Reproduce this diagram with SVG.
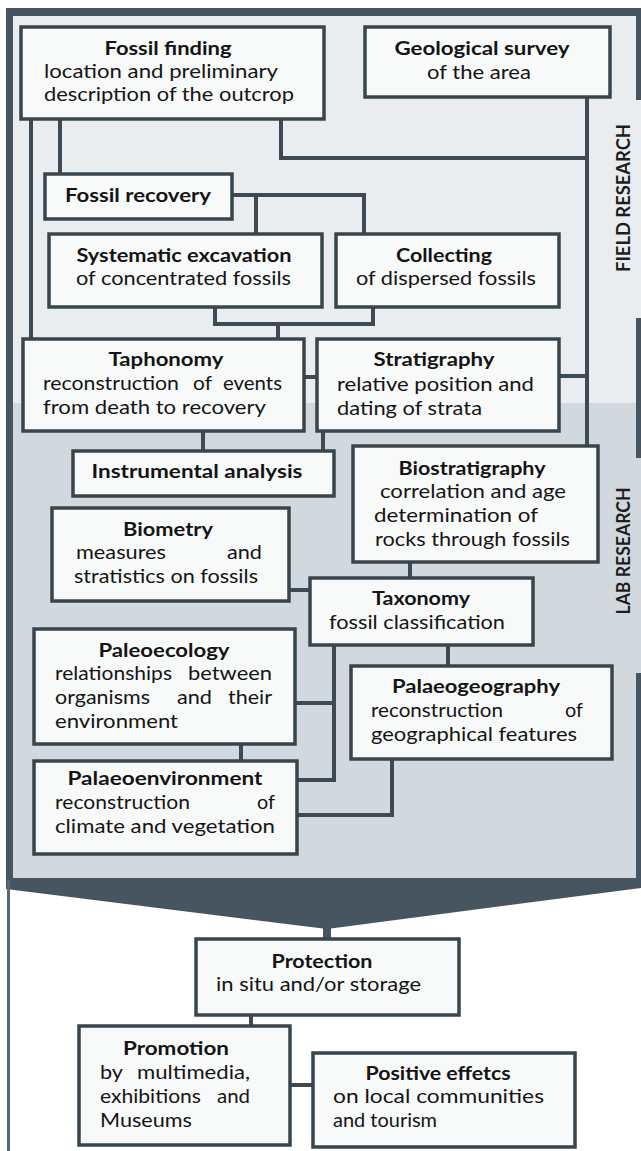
<svg xmlns="http://www.w3.org/2000/svg" width="641" height="1151" viewBox="0 0 641 1151">
<style>
.box{fill:#f8f9f9;stroke:#38454d;stroke-width:3.5}
.con{fill:none;stroke:#3d4a53;stroke-width:4}
text{font-family:Lato,"Open Sans","Liberation Sans",sans-serif;font-size:19px;fill:#141414}
.t{font-weight:700;text-anchor:middle}
.side{font-weight:700;font-size:18px;fill:#1e1e1e;text-anchor:middle}
</style>
<rect x="0" y="0" width="641" height="1151" fill="#ffffff"/>
<g id="frame">
<path d="M6,8 H641 V888 L327,929 L6,889 Z" fill="#46555f"/>
<rect x="7" y="880" width="3" height="271" fill="#5b6870"/>
<rect x="13" y="16" width="623" height="387" fill="#e9edf0"/>
<rect x="13" y="403" width="623" height="475" fill="#d1d9df"/>
<rect x="636" y="100" width="5" height="218" fill="#e9edf0"/>
<rect x="636" y="458" width="5" height="215" fill="#d1d9df"/>
<rect x="323" y="925" width="8" height="15" fill="#46555f"/>
<text class="side" transform="translate(630,198) rotate(-90)" textLength="148" lengthAdjust="spacingAndGlyphs">FIELD RESEARCH</text>
<text class="side" transform="translate(630,551) rotate(-90)" textLength="127" lengthAdjust="spacingAndGlyphs">LAB RESEARCH</text>
</g>
<g id="connectors">
<path class="con" d="M31,119 V339"/>
<path class="con" d="M60,119 V174"/>
<path class="con" d="M281,119 V158 H587"/>
<path class="con" d="M587,97 V446"/>
<path class="con" d="M232,195 H364 V234"/>
<path class="con" d="M256,195 V234"/>
<path class="con" d="M215,307 V324 H373 V307"/>
<path class="con" d="M278,324 V339"/>
<path class="con" d="M304,377 H317"/>
<path class="con" d="M559,376 H587"/>
<path class="con" d="M203,431 V451"/>
<path class="con" d="M323,431 V451"/>
<path class="con" d="M410,562 V578"/>
<path class="con" d="M289,590 H310"/>
<path class="con" d="M448,645 V666"/>
<path class="con" d="M334,645 V780 H297"/>
<path class="con" d="M295,703 H334"/>
<path class="con" d="M241,744 V761"/>
<path class="con" d="M297,815 H392 V759"/>
<path class="con" d="M251,1015 V1026"/>
<path class="con" d="M290,1085 H313"/>
</g>
<g id="fossil-finding">
<rect class="box" x="21" y="27" width="303" height="92"/>
<text class="t" x="168" y="55" textLength="127" lengthAdjust="spacingAndGlyphs">Fossil finding</text>
<text x="44" y="78" textLength="234" lengthAdjust="spacingAndGlyphs">location and preliminary</text>
<text x="44" y="101" textLength="250" lengthAdjust="spacingAndGlyphs">description of the outcrop</text>
</g>
<g id="geological-survey">
<rect class="box" x="365" y="27" width="245" height="70"/>
<text class="t" x="482" y="55" textLength="175" lengthAdjust="spacingAndGlyphs">Geological survey</text>
<text x="427" y="79" textLength="104" lengthAdjust="spacingAndGlyphs">of the area</text>
</g>
<g id="fossil-recovery">
<rect class="box" x="45" y="174" width="187" height="45"/>
<text class="t" x="138" y="202" textLength="146" lengthAdjust="spacingAndGlyphs">Fossil recovery</text>
</g>
<g id="systematic-excavation">
<rect class="box" x="49" y="234" width="273" height="73"/>
<text class="t" x="184" y="262" textLength="215" lengthAdjust="spacingAndGlyphs">Systematic excavation</text>
<text x="76" y="285" textLength="215" lengthAdjust="spacingAndGlyphs">of concentrated fossils</text>
</g>
<g id="collecting">
<rect class="box" x="336" y="234" width="223" height="73"/>
<text class="t" x="444" y="262" textLength="96" lengthAdjust="spacingAndGlyphs">Collecting</text>
<text x="356" y="285" textLength="180" lengthAdjust="spacingAndGlyphs">of dispersed fossils</text>
</g>
<g id="taphonomy">
<rect class="box" x="23" y="339" width="281" height="92"/>
<text class="t" x="166" y="366" textLength="115" lengthAdjust="spacingAndGlyphs">Taphonomy</text>
<text x="43" y="390" textLength="136" lengthAdjust="spacingAndGlyphs">reconstruction</text>
<text x="193" y="390" textLength="19" lengthAdjust="spacingAndGlyphs">of</text>
<text x="223" y="390" textLength="59" lengthAdjust="spacingAndGlyphs">events</text>
<text x="43" y="414" textLength="223" lengthAdjust="spacingAndGlyphs">from death to recovery</text>
</g>
<g id="stratigraphy">
<rect class="box" x="317" y="339" width="242" height="92"/>
<text class="t" x="434" y="366" textLength="121" lengthAdjust="spacingAndGlyphs">Stratigraphy</text>
<text x="337" y="391" textLength="197" lengthAdjust="spacingAndGlyphs">relative position and</text>
<text x="337" y="415" textLength="145" lengthAdjust="spacingAndGlyphs">dating of strata</text>
</g>
<g id="instrumental-analysis">
<rect class="box" x="73" y="451" width="261" height="45"/>
<text class="t" x="197" y="478" textLength="211" lengthAdjust="spacingAndGlyphs">Instrumental analysis</text>
</g>
<g id="biostratigraphy">
<rect class="box" x="353" y="446" width="245" height="116"/>
<text class="t" x="472" y="475" textLength="147" lengthAdjust="spacingAndGlyphs">Biostratigraphy</text>
<text x="380" y="498" textLength="186" lengthAdjust="spacingAndGlyphs">correlation and age</text>
<text x="374" y="522" textLength="164" lengthAdjust="spacingAndGlyphs">determination of</text>
<text x="375" y="546" textLength="195" lengthAdjust="spacingAndGlyphs">rocks through fossils</text>
</g>
<g id="biometry">
<rect class="box" x="52" y="508" width="237" height="93"/>
<text class="t" x="168" y="536" textLength="90" lengthAdjust="spacingAndGlyphs">Biometry</text>
<text x="76" y="559" textLength="90" lengthAdjust="spacingAndGlyphs">measures</text>
<text x="227" y="559" textLength="35" lengthAdjust="spacingAndGlyphs">and</text>
<text x="74" y="583" textLength="184" lengthAdjust="spacingAndGlyphs">stratistics on fossils</text>
</g>
<g id="taxonomy">
<rect class="box" x="310" y="578" width="223" height="67"/>
<text class="t" x="421" y="605" textLength="98" lengthAdjust="spacingAndGlyphs">Taxonomy</text>
<text x="329" y="629" textLength="176" lengthAdjust="spacingAndGlyphs">fossil classification</text>
</g>
<g id="paleoecology">
<rect class="box" x="34" y="629" width="261" height="115"/>
<text class="t" x="164" y="657" textLength="131" lengthAdjust="spacingAndGlyphs">Paleoecology</text>
<text x="55" y="680" textLength="117" lengthAdjust="spacingAndGlyphs">relationships</text>
<text x="188" y="680" textLength="84" lengthAdjust="spacingAndGlyphs">between</text>
<text x="55" y="704" textLength="95" lengthAdjust="spacingAndGlyphs">organisms</text>
<text x="177" y="704" textLength="35" lengthAdjust="spacingAndGlyphs">and</text>
<text x="228" y="704" textLength="44" lengthAdjust="spacingAndGlyphs">their</text>
<text x="55" y="728" textLength="123" lengthAdjust="spacingAndGlyphs">environment</text>
</g>
<g id="palaeogeography">
<rect class="box" x="351" y="666" width="261" height="93"/>
<text class="t" x="476" y="693" textLength="168" lengthAdjust="spacingAndGlyphs">Palaeogeography</text>
<text x="371" y="717" textLength="132" lengthAdjust="spacingAndGlyphs">reconstruction</text>
<text x="565" y="717" textLength="18" lengthAdjust="spacingAndGlyphs">of</text>
<text x="371" y="741" textLength="206" lengthAdjust="spacingAndGlyphs">geographical features</text>
</g>
<g id="palaeoenvironment">
<rect class="box" x="34" y="761" width="263" height="93"/>
<text class="t" x="165" y="785" textLength="195" lengthAdjust="spacingAndGlyphs">Palaeoenvironment</text>
<text x="55" y="809" textLength="135" lengthAdjust="spacingAndGlyphs">reconstruction</text>
<text x="257" y="809" textLength="18" lengthAdjust="spacingAndGlyphs">of</text>
<text x="55" y="833" textLength="220" lengthAdjust="spacingAndGlyphs">climate and vegetation</text>
</g>
<g id="protection">
<rect class="box" x="196" y="939" width="263" height="76"/>
<text class="t" x="322" y="968" textLength="101" lengthAdjust="spacingAndGlyphs">Protection</text>
<text x="216" y="991" textLength="205" lengthAdjust="spacingAndGlyphs">in situ and/or storage</text>
</g>
<g id="promotion">
<rect class="box" x="79" y="1026" width="211" height="119"/>
<text class="t" x="176" y="1055" textLength="106" lengthAdjust="spacingAndGlyphs">Promotion</text>
<text x="100" y="1079" textLength="23" lengthAdjust="spacingAndGlyphs">by</text>
<text x="137" y="1079" textLength="113" lengthAdjust="spacingAndGlyphs">multimedia,</text>
<text x="100" y="1103" textLength="101" lengthAdjust="spacingAndGlyphs">exhibitions</text>
<text x="217" y="1103" textLength="33" lengthAdjust="spacingAndGlyphs">and</text>
<text x="100" y="1127" textLength="92" lengthAdjust="spacingAndGlyphs">Museums</text>
</g>
<g id="positive-effetcs">
<rect class="box" x="313" y="1053" width="262" height="94"/>
<text class="t" x="438" y="1080" textLength="145" lengthAdjust="spacingAndGlyphs">Positive effetcs</text>
<text x="333" y="1103" textLength="211" lengthAdjust="spacingAndGlyphs">on local communities</text>
<text x="333" y="1127" textLength="104" lengthAdjust="spacingAndGlyphs">and tourism</text>
</g>
</svg>
